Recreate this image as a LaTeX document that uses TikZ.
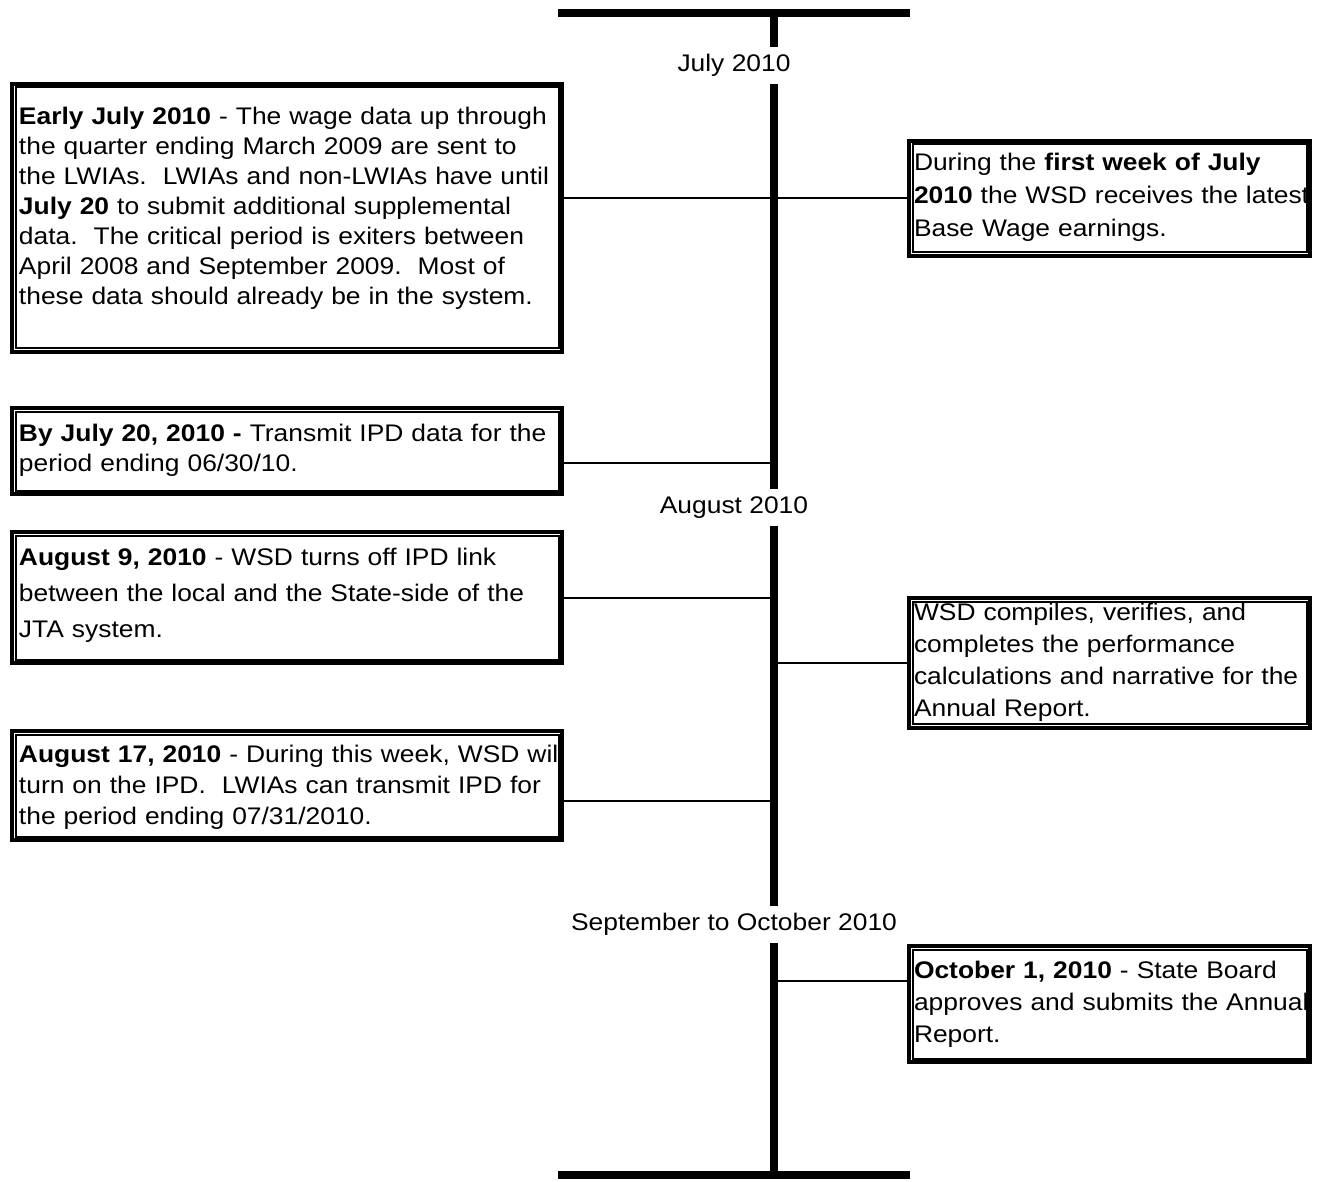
\documentclass[tikz,border=0pt]{standalone}
\usepackage{fontspec}
\setmainfont{Liberation Sans}[FakeStretch=1.1]
\usepackage{tikz}
\usetikzlibrary{positioning}
\frenchspacing
\tikzset{
  x=1pt, y=-1pt,
  spine/.style={line width=7.5pt},
  link/.style={line width=2pt},
  month/.style={fill=white, inner xsep=4pt, inner ysep=0pt, minimum height=37pt,
    font=\fontsize{24pt}{28pt}\selectfont},
  event/.style={draw, line width=4pt, anchor=north west, align=left, inner ysep=0pt,
    font=\fontsize{24pt}{#1}\selectfont,
    append after command={\pgfextra{
      \draw[line width=2pt] ([shift={(5.5pt,-5.5pt)}]\tikzlastnode.north west)
        rectangle ([shift={(-5.5pt,5.5pt)}]\tikzlastnode.south east);}}},
  leftev/.style={event=#1, text width=536pt, inner xsep=7pt},
  rightev/.style={event=#1, text width=391pt, inner xsep=5pt},
}
\newcommand{\lines}[1]{\begin{tabular}[t]{@{}l@{}}#1\end{tabular}}

\begin{document}
\begin{tikzpicture}
  \useasboundingbox (0,0) rectangle (1318,1182);

  \coordinate (top) at (774,13);
  \coordinate (bot) at (774,1175);
  \coordinate (s3)  at (774,463);
  \coordinate (s6)  at (774,801);
  \coordinate (s7)  at (774,981);

  % time line
  \draw[spine] (top) -- (bot);
  \draw[spine] (558,13)   -- (910,13);
  \draw[spine] (558,1175) -- (910,1175);

  \node[month] (jul) at (734,65.5)  {July 2010};
  \node[month] (aug) at (734,507.5) {August 2010};
  \node[month] (sep) at (734,924.5) {September to October 2010};

  % left side
  \node[leftev=30pt, text height=41pt, text depth=227pt] (b1) at (10,82)
    {\lines{\textbf{Early July 2010} - The wage data up through\\
     the quarter ending March 2009 are sent to\\
     the LWIAs.~ LWIAs and non-LWIAs have until\\
     \textbf{July 20} to submit additional supplemental\\
     data.~ The critical period is exiters between\\
     April 2008 and September 2009.~ Most of\\
     these data should already be in the system.}};
  \node[leftev=30pt, text height=33pt, text depth=53pt] (b3) at (10,406)
    {\lines{\textbf{By July 20, 2010 -} Transmit IPD data for the\\
     period ending 06/30/10.}};
  \node[leftev=36pt, text height=33pt, text depth=98pt] (b4) at (10,530)
    {\lines{\textbf{August 9, 2010} - WSD turns off IPD link\\
     between the local and the State-side of the\\
     JTA system.}};
  \node[leftev=31pt, text height=31.5pt, text depth=77.5pt] (b6) at (10,729)
    {\lines{\textbf{August 17, 2010} - During this week, WSD wil\\
     turn on the IPD.~ LWIAs can transmit IPD for\\
     the period ending 07/31/2010.}};

  % right side
  \node[rightev=33pt, text height=29.5pt, text depth=85.5pt] (b2) at (907,139)
    {\lines{During the \textbf{first week of July}\\
     \textbf{2010} the WSD receives the latest\\
     Base Wage earnings.}};
  \node[rightev=32.3pt, text height=22pt, text depth=107.5pt] (b5) at (907,596)
    {\lines{WSD compiles, verifies, and\\
     completes the performance\\
     calculations and narrative for the\\
     Annual Report.}};
  \node[rightev=32pt, text height=32.5pt, text depth=83.5pt] (b7) at (907,944)
    {\lines{\textbf{October 1, 2010} - State Board\\
     approves and submits the Annual\\
     Report.}};

  \draw[link] (b1.east |- b2.west) -- (b2.west);
  \draw[link] (b3.east |- s3) -- (s3);
  \draw[link] (b4.east) -- (b4.east -| top);
  \draw[link] (b5.west -| top) -- (b5.west);
  \draw[link] (b6.east |- s6) -- (s6);
  \draw[link] (s7) -- (b7.west |- s7);
\end{tikzpicture}
\end{document}
